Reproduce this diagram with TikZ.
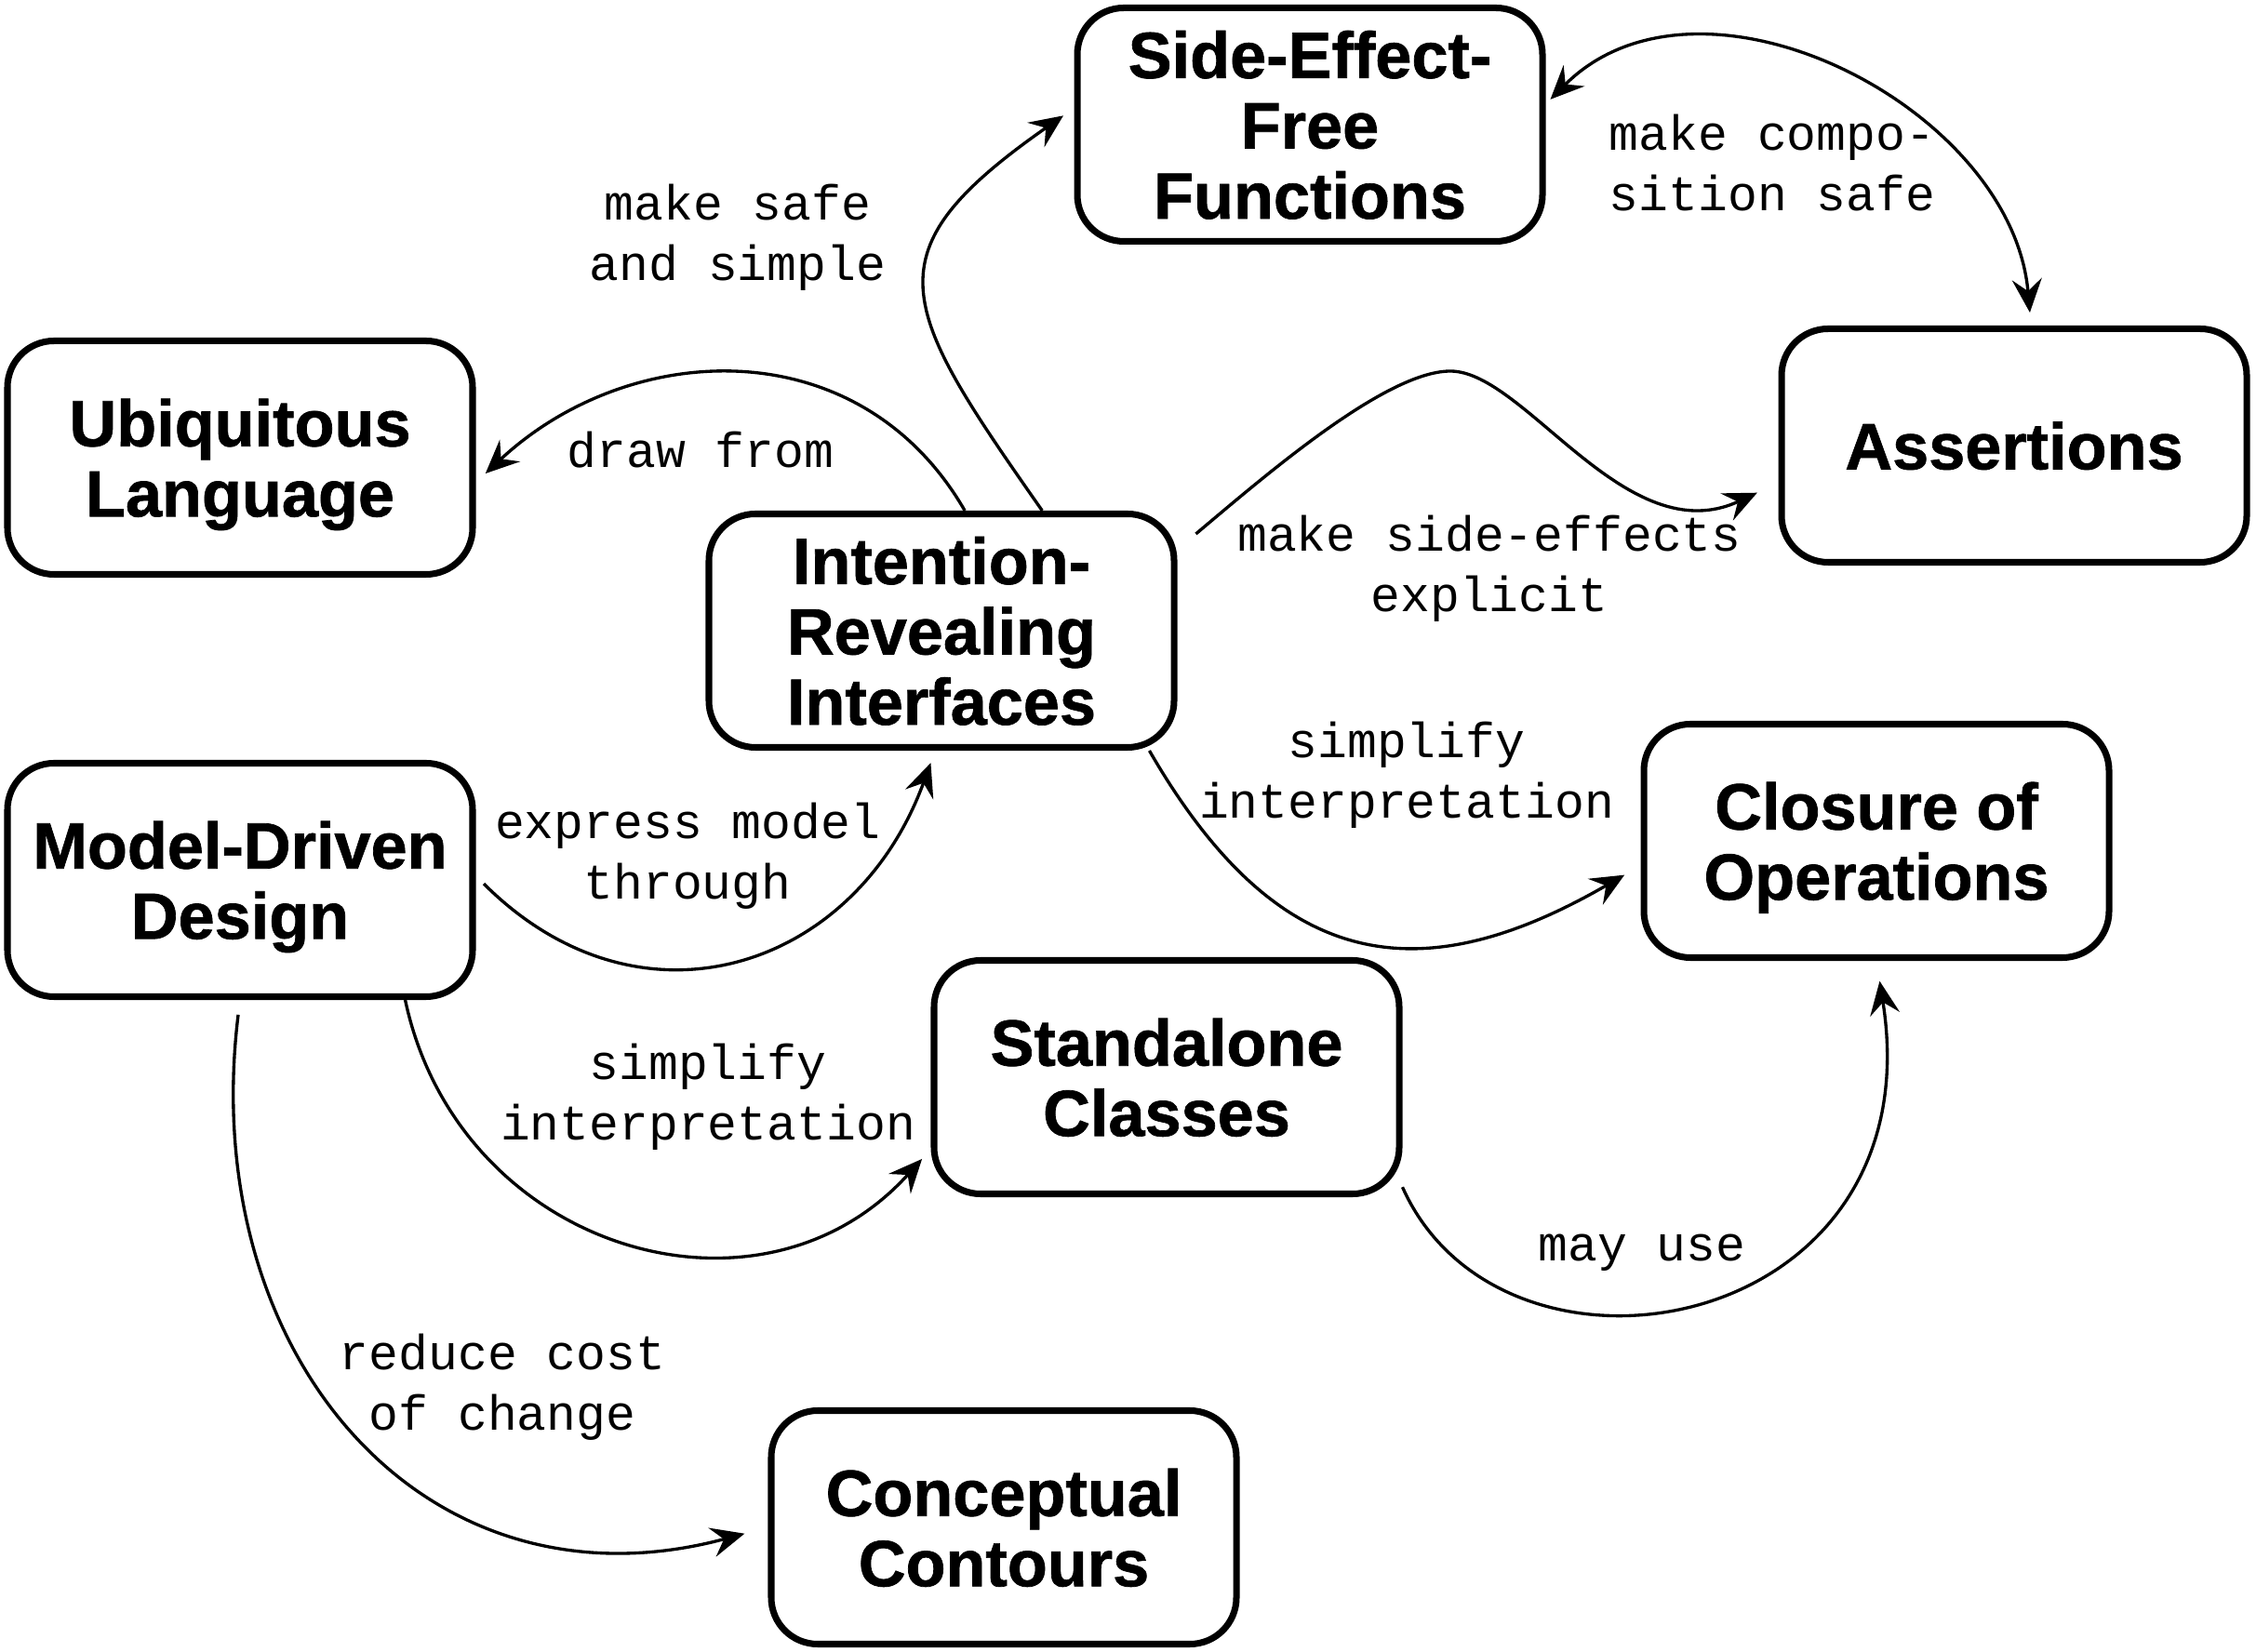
\documentclass[tikz,border=0pt]{standalone}
\usepackage{fontspec}
\setmainfont{Liberation Sans}
\newfontfamily\relfont{Liberation Mono}
\usetikzlibrary{arrows.meta}

\tikzset{
  pattern/.style={draw, line width=2pt, rounded corners=0.5cm,
    minimum width=5.0cm, minimum height=2.51cm, align=center,
    text depth=0pt,
    font=\fontsize{20}{21.5}\selectfont\bfseries\addfontfeature{FakeBold=1}},
  rel/.style={align=center, inner sep=0pt,
    font=\relfont\fontsize{15.1}{18.4}\selectfont},
  link/.style={line width=0.95pt, shorten >=4pt},
  >={Stealth[length=0.36cm,width=0.32cm,inset=0.13cm]}
}

\begin{document}
\begin{tikzpicture}

\useasboundingbox (0,0) rectangle (24.25,17.75);

% patterns
\node[pattern] (sef) at (14.08,16.41) {Side-Effect-\\Free\\Functions};
\node[pattern] (asr) at (21.65,12.96) {Assertions};
\node[pattern] (ubl) at (2.58,12.83) {Ubiquitous\\Language};
\node[pattern] (iri) at (10.12,10.97) {Intention-\\Revealing\\Interfaces};
\node[pattern] (mdd) at (2.58,8.29) {Model-Driven\\Design};
\node[pattern] (coo) at (20.17,8.71) {Closure of\\Operations};
\node[pattern] (sac) at (12.54,6.17) {Standalone\\Classes};
\node[pattern] (coc) at (10.79,1.33) {Conceptual\\Contours};

% relations
\draw[link,->] (iri.50) to[out=125,in=215,looseness=1.6] (sef.176);
\draw[link,<->,shorten <=2pt] (sef.5) to[out=45,in=95,looseness=1.05] (asr.82);
\draw[link,->] (iri.79) to[out=120,in=43,looseness=1.1] (ubl.354);
\draw[link,->,shorten <=0.26cm,shorten >=0.25cm] (iri.19.5)
  .. controls +(40:1.2) and +(180:0.7) .. (15.59,13.76)
  .. controls +(0:0.8) and +(205:1.8) .. (asr.189.5);
\draw[link,->,shorten >=0.2cm] (iri.330) to[out=-60,in=210,looseness=1.3] (coo.186);
\draw[link,->,shorten <=0.12cm,shorten >=0.14cm] (mdd.1) to[out=-45,in=250,looseness=1.25] (iri.267);
\draw[link,->] (mdd.324) to[out=-78,in=228,looseness=1.2] (sac.197);
\draw[link,->,shorten <=0.16cm,shorten >=0.26cm] (mdd.south) to[out=263,in=195,looseness=1.22] (coc.west);
\draw[link,->,shorten >=0.22cm] (sac.335) to[out=-66,in=279,out looseness=1.2,in looseness=1.85] (coo.south);

% labels
\node[rel] (lsafe) at (7.93,15.20) {make safe\\and simple};
\node[rel] (lcomp) at (19.05,16.00) {make compo-\\sition safe};
\node[rel] (ldraw) at (7.53,12.91) {draw from};
\node[rel] (lside) at (16.01,11.64) {make side-effects\\explicit};
\node[rel] (lsimpa) at (15.12,9.42) {simplify\\interpretation};
\node[rel] (lexpr) at (7.39,8.55) {express model\\through};
\node[rel] (lsimpb) at (7.61,5.96) {simplify\\interpretation};
\node[rel] (lcost) at (5.40,2.84) {reduce cost\\of change};
\node[rel] (lmay) at (17.65,4.28) {may use};

\end{tikzpicture}
\end{document}
